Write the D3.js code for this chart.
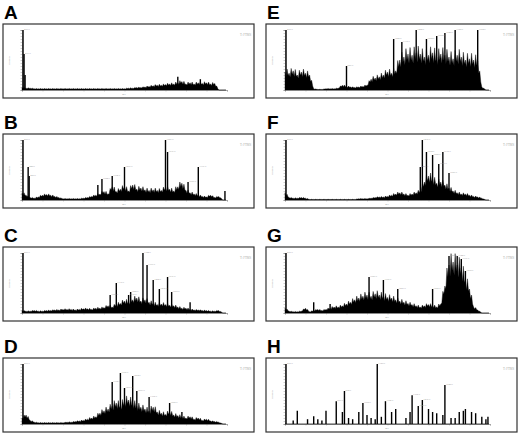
<!DOCTYPE html>
<html lang="en">
<head>
<meta charset="UTF-8" />
<script src="https://cdn.jsdelivr.net/npm/d3@7"></script>
<style>body{margin:0;background:#fff}</style>
</head>
<body>
<svg width="520" height="437"></svg>
<script>
  // panel letters
  var panelNames = ['A', 'B', 'C', 'D', 'E', 'F', 'G', 'H'];
  // background envelope, 50 bins across the m/z range (relative intensity %)
  var envA = [4,3,3,2,2,2,2,2,2,2, 2,2,2,2,2,2,2,2,2,2, 2,2,2,2,2,2,3,3,4,4, 5,6,7,8,8,9,10,10,12,14, 10,12,10,12,11,12,10,11,0,0];
  var envB = [12,8,4,3,5,8,9,8,6,4, 2,2,2,2,2,3,4,6,8,10, 14,10,22,14,18,22,15,25,18,20, 17,16,17,16,16,20,18,15,22,28, 16,12,10,8,6,5,8,4,6,0];
  var envC = [4,3,3,4,3,3,4,4,5,5, 6,6,6,5,6,7,7,6,8,8, 9,12,10,14,16,20,18,22,25,20, 22,18,16,14,15,14,13,12,10,8, 8,6,5,5,4,4,3,3,4,0];
  var envD = [10,15,6,3,2,2,2,2,2,2, 2,3,3,4,5,6,8,10,12,18, 22,25,30,35,30,38,40,35,30,28, 25,22,28,20,18,16,20,15,14,12, 10,12,8,10,6,8,5,4,3,0];
  var envE = [30,28,32,25,30,28,25,2,1,1, 2,2,2,3,8,6,5,4,5,6, 8,18,20,22,25,30,28,32,50,55, 60,58,62,60,55,58,62,55,60,58, 55,52,58,55,50,52,50,48,5,0];
  var envF = [12,4,3,3,4,3,1,1,1,1, 1,1,1,1,1,1,1,1,2,2, 2,3,4,5,5,6,8,10,12,10, 8,10,12,15,30,40,35,28,30,25, 20,15,12,10,10,8,6,5,3,0];
  var envG = [8,3,2,2,3,8,2,4,6,4, 6,8,10,10,12,15,18,22,25,28, 30,28,32,30,28,26,25,22,20,18, 16,14,12,10,12,14,12,10,15,45, 80,85,80,75,55,40,10,5,0,0];
  var envH = [0,0,0,0,0,0,0,0,0,0, 0,0,0,0,0,0,0,0,0,0, 0,0,0,0,0,0,0,0,0,0, 0,0,0,0,0,0,0,0,0,0, 0,0,0,0,0,0,0,0,0,0];
  // labelled peaks: [position % of range, intensity %]
  var peaksA = [[0.5,100],[1,60],[1.5,25],[76,22],[87,18]];
  var peaksB = [[0.5,100],[3,55],[3.5,40],[37,25],[39,35],[44,40],[50,55],[70,100],[71,80],[81,30],[86,55],[99,15]];
  var peaksC = [[0.5,100],[43,30],[46,50],[52,30],[53,35],[59,100],[61,80],[64,55],[67,40],[71,60],[73,35],[82,18]];
  var peaksD = [[0.5,100],[44,70],[48,85],[50,60],[54,80],[56,55],[62,45],[72,35],[78,20]];
  var peaksE = [[0.5,100],[30,40],[53,85],[57,80],[64,100],[69,85],[74,90],[78,95],[83,100],[94,100]];
  var peaksF = [[0.5,100],[66,55],[67,100],[69,80],[72,75],[75,60],[77,80],[80,45]];
  var peaksG = [[0.5,100],[14,18],[22,15],[41,60],[48,55],[55,40],[72,40],[80,95],[84,95],[86,90],[88,70]];
  var peaksH = [[0.5,100],[4,6],[6,22],[11,8],[14,13],[16,8],[18,6],[20,22],[25,38],[28,20],[29,55],[31,10],[33,8],[36,20],[38,35],[40,15],[42,10],[44,8],[45,100],[47,12],[49,38],[52,20],[54,25],[59,10],[61,20],[62,48],[65,30],[67,40],[70,25],[72,20],[74,18],[77,15],[78,65],[81,10],[83,10],[85,20],[87,22],[88,25],[91,20],[93,18],[96,12],[98,8],[99,12]];

  var envs = [envA, envB, envC, envD, envE, envF, envG, envH];
  var peaks = [peaksA, peaksB, peaksC, peaksD, peaksE, peaksF, peaksG, peaksH];
  var rowTops = [24, 134, 247, 358];
  var colLefts = [3, 266];
  var boxW = 251, boxH = 74;

  var svg = d3.select('svg');

  panelNames.forEach(function (name, i) {
    var bx = colLefts[Math.floor(i / 4)];
    var by = rowTops[i % 4];
    svg.append('text').attr('x', bx + 1).attr('y', by - 5)
      .attr('font-family', 'Liberation Sans, Arial').attr('font-weight', 'bold')
      .attr('font-size', 19).text(name);
    svg.append('rect').attr('x', bx).attr('y', by).attr('width', boxW).attr('height', boxH)
      .attr('fill', 'none').attr('stroke', '#333').attr('stroke-width', 1.2);

    var g = svg.append('g').attr('transform', 'translate(' + (bx + 19) + ',' + (by + 6) + ')');
    var x = d3.scaleLinear().domain([0, 100]).range([0, 205]);
    var y = d3.scaleLinear().domain([0, 100]).range([60, 0]);

    // axes (tiny, gray like the original)
    var ax = g.append('g').attr('transform', 'translate(0,60)')
      .call(d3.axisBottom(x).ticks(10).tickSize(1.5).tickFormat(''));
    ax.select('.domain').attr('stroke', '#555').attr('stroke-width', 0.5);
    ax.selectAll('line').attr('stroke', '#888').attr('stroke-width', 0.4);
    var ay = g.append('g').call(d3.axisLeft(y).ticks(20).tickSize(1.5).tickFormat(''));
    ay.select('.domain').attr('stroke', '#555').attr('stroke-width', 0.5);
    ay.selectAll('line').attr('stroke', '#888').attr('stroke-width', 0.4);
    g.append('text').attr('x', -12).attr('y', 30).attr('font-size', 2.5).attr('fill', '#999')
      .attr('transform', 'rotate(-90,-12,30)').attr('text-anchor', 'middle').text('Intensity');
    g.append('text').attr('x', 102).attr('y', 65).attr('font-size', 2.5).attr('fill', '#999')
      .attr('text-anchor', 'middle').text('m/z');
    g.append('text').attr('x', 218).attr('y', 6).attr('font-size', 3).attr('fill', '#aaa').text('T: FTMS');

    // envelope as a solid spiky area
    var env = envs[i];
    var bins = d3.range(env.length * 4).map(function (k) {
      var j = Math.floor(k / 4);
      var v = env[j];
      var nxt = j + 1 < env.length ? env[j + 1] : v;
      var f = (k % 4) / 4;
      var jag = [1, 0.75, 1.2, 0.85][k % 4];
      return { p: k * 100 / (env.length * 4), v: (v * (1 - f) + nxt * f) * jag };
    });
    var area = d3.area()
      .x(function (d) { return x(d.p); })
      .y0(60)
      .y1(function (d) { return y(d.v); });
    g.append('path').datum(bins).attr('d', area).attr('fill', '#000')
      .attr('stroke', '#000').attr('stroke-width', 0.4);

    // peak lines
    g.selectAll('line.pk').data(peaks[i]).enter().append('line')
      .attr('x1', function (d) { return x(d[0]); })
      .attr('x2', function (d) { return x(d[0]); })
      .attr('y1', 60)
      .attr('y2', function (d) { return y(d[1]); })
      .attr('stroke', '#000').attr('stroke-width', 1.4);
    g.selectAll('text.pk').data(peaks[i].filter(function (d) { return d[1] >= 30; }))
      .enter().append('text')
      .attr('x', function (d) { return x(d[0]) + 1; })
      .attr('y', function (d) { return y(d[1]) - 0.5; })
      .attr('font-size', 2.5).attr('fill', '#999')
      .text(function (d) { return (400 + d[0] * 16).toFixed(1); });
  });
</script>
</body>
</html>
